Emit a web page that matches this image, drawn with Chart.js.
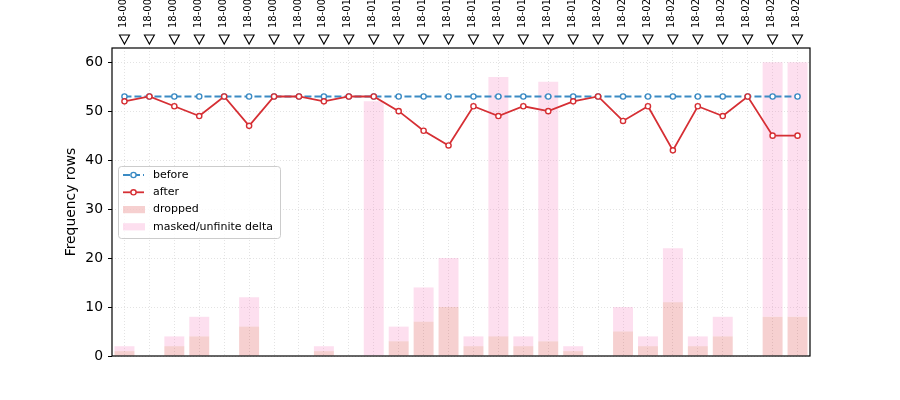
<!DOCTYPE html>
<html><head><meta charset="utf-8">
<script src="https://cdn.jsdelivr.net/npm/chart.js@4.4.1/dist/chart.umd.min.js"></script>
<style>html,body{margin:0;padding:0;background:#fff;overflow:hidden}#wrap{position:relative;width:900px;height:400px}</style>
</head><body><div id="wrap"><canvas id="c" width="900" height="400"></canvas></div>
<script>
const categories = ['18-001','18-002','18-003','18-004','18-005','18-006','18-007','18-008','18-009','18-010',
  '18-011','18-012','18-013','18-014','18-015','18-016','18-017','18-018','18-019','18-020',
  '18-021','18-022','18-023','18-024','18-025','18-026','18-027','18-028'];
const beforeRows = [53,53,53,53,53,53,53,53,53,53,53,53,53,53,53,53,53,53,53,53,53,53,53,53,53,53,53,53];
const afterRows  = [52,53,51,49,53,47,53,53,52,53,53,50,46,43,51,49,51,50,52,53,48,51,42,51,49,53,45,45];
const droppedRows = [1,0,2,4,0,6,0,0,1,0,0,3,7,10,2,4,2,3,1,0,5,2,11,2,4,0,8,8];
const maskedRows  = [1,0,2,4,0,6,0,0,1,0,52,3,7,10,2,53,2,53,1,0,5,2,11,2,4,0,52,52];
const yTicks = [0,10,20,30,40,50,60];
const yMax = 62.9;

const FONT = 'DejaVu Sans';
const BLUE = '#3b8bc4', RED = '#d62f34';
const DROP_C = 'rgba(214,39,40,0.22)', MASK_C = 'rgba(247,129,191,0.25)';
const GRID_C = '#dcdcdc';

const framePlugin = {
  id: 'frame',
  afterDraw(chart) {
    const {ctx, chartArea: ca} = chart;
    const xs = chart.scales.x;
    ctx.save();
    ctx.strokeStyle = '#000'; ctx.lineWidth = 1.2;
    ctx.strokeRect(ca.left, ca.top, ca.right - ca.left, ca.bottom - ca.top);
    ctx.lineWidth = 1.1; ctx.fillStyle = '#fff';
    categories.forEach((c, i) => {
      const x = xs.getPixelForValue(i);
      ctx.beginPath();
      ctx.moveTo(x - 5, ca.top - 13);
      ctx.lineTo(x + 5, ca.top - 13);
      ctx.lineTo(x, ca.top - 4);
      ctx.closePath();
      ctx.fill(); ctx.stroke();
    });
    const L = {x: 118.5, y: 166.5, w: 162, h: 72};
    ctx.beginPath();
    ctx.roundRect(L.x, L.y, L.w, L.h, 3);
    ctx.fillStyle = 'rgba(255,255,255,0.8)'; ctx.fill();
    ctx.strokeStyle = '#cccccc'; ctx.lineWidth = 1; ctx.stroke();
    const rows = [175, 192.3, 209.6, 226.8];
    const items = chart.data.datasets.filter(d => d.label);
    ctx.font = '11px "' + FONT + '"'; ctx.textBaseline = 'middle'; ctx.textAlign = 'left';
    items.forEach((d, k) => {
      const y = rows[k];
      if (d.type === 'line') {
        ctx.save();
        ctx.strokeStyle = d.borderColor; ctx.lineWidth = d.borderWidth;
        ctx.setLineDash(d.borderDash || []);
        ctx.beginPath(); ctx.moveTo(123, y); ctx.lineTo(144, y); ctx.stroke();
        ctx.setLineDash([]);
        ctx.beginPath(); ctx.arc(133.5, y, d.pointRadius, 0, Math.PI * 2);
        ctx.fillStyle = '#fff'; ctx.fill();
        ctx.lineWidth = d.pointBorderWidth; ctx.stroke();
        ctx.restore();
      } else {
        ctx.fillStyle = d.backgroundColor;
        ctx.fillRect(123, y - 3.6, 22, 7.2);
      }
      ctx.fillStyle = '#000';
      ctx.fillText(d.label, 153, y);
    });
    ctx.restore();
  }
};

new Chart(document.getElementById('c'), {
  type: 'bar',
  data: {
    labels: categories,
    datasets: [
      {type: 'line', label: 'before', data: beforeRows, stack: 's_before', order: 1,
       borderColor: BLUE, borderWidth: 1.8, borderDash: [7, 3], pointRadius: 2.6, pointBorderWidth: 1.4,
       pointBackgroundColor: '#fff', pointBorderColor: BLUE, tension: 0, xAxisID: 'x', yAxisID: 'y'},
      {type: 'line', label: 'after', data: afterRows, stack: 's_after', order: 0,
       borderColor: RED, borderWidth: 1.8, pointRadius: 2.6, pointBorderWidth: 1.4,
       pointBackgroundColor: '#fff', pointBorderColor: RED, tension: 0, xAxisID: 'x', yAxisID: 'y'},
      {type: 'bar', label: 'dropped', data: droppedRows, stack: 'bars', order: 2,
       backgroundColor: DROP_C, borderWidth: 0, barPercentage: 0.8, categoryPercentage: 1, xAxisID: 'x', yAxisID: 'y'},
      {type: 'bar', label: 'masked/unfinite delta', data: maskedRows, stack: 'bars', order: 3,
       backgroundColor: MASK_C, borderWidth: 0, barPercentage: 0.8, categoryPercentage: 1, xAxisID: 'x', yAxisID: 'y'}
    ]
  },
  options: {
    responsive: false, animation: false, devicePixelRatio: 1,
    layout: {padding: {top: 0, left: 0, right: 90, bottom: 44}},
    plugins: {legend: {display: false}, tooltip: {enabled: false}, title: {display: false}},
    scales: {
      x: {type: 'category', position: 'bottom', offset: true,
          grid: {offset: false, color: GRID_C, lineWidth: 0.8, drawTicks: false},
          border: {display: false, dash: [1, 2]},
          ticks: {display: false},
          afterFit(s) { s.height = 0; }},
      xTop: {type: 'category', position: 'top', labels: categories, offset: true,
          grid: {display: false, drawTicks: false}, border: {display: false},
          ticks: {autoSkip: false, maxRotation: 90, minRotation: 90, padding: 20, labelOffset: 11, color: '#000',
                  font: {size: 10, family: FONT}},
          afterFit(s) { s.height = 48; }},
      y: {type: 'linear', position: 'left', min: 0, max: yMax, stacked: true,
          grid: {color: GRID_C, lineWidth: 0.8, tickColor: '#000', tickLength: 4, tickWidth: 1, tickBorderDash: []},
          border: {display: false, dash: [1, 2]},
          ticks: {padding: 5, color: '#000', font: {size: 13.9, family: FONT}},
          afterBuildTicks(s) { s.ticks = yTicks.map(v => ({value: v})); },
          title: {display: true, text: 'Frequency rows', color: '#000', font: {size: 13.9, family: FONT},
                  padding: {top: 63.5, bottom: 0}},
          afterFit(s) { s.width = 112; }}
    }
  },
  plugins: [framePlugin]
});
</script></body></html>
